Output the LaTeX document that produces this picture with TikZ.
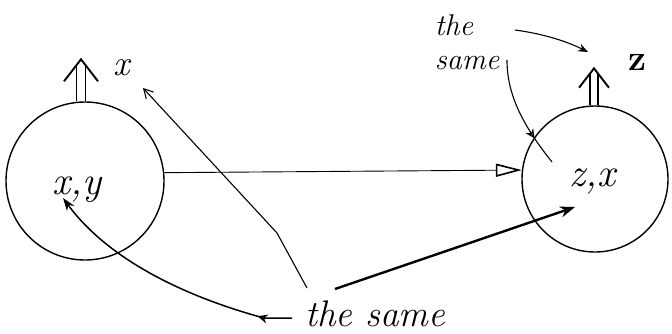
\documentclass[tikz,border=0pt]{standalone}
\usepackage{fontspec}
\usetikzlibrary{arrows.meta,decorations.markings,calc}
\begin{document}
\begin{tikzpicture}[x=1pt,y=-1pt,
  ring/.style={circle,draw,line width=1.4pt,inner sep=0pt},
  lbl/.style={font=\fontsize{40}{44}\selectfont\itshape,inner sep=0pt},
  outl/.style={font=\fontsize{36}{40}\selectfont\itshape,inner sep=0pt},
  note/.style={font=\fontsize{30}{34}\selectfont\itshape,inner sep=0pt,align=left},
  bignote/.style={font=\fontsize{37}{37}\selectfont\itshape,inner sep=0pt},
  thinln/.style={line width=1.1pt},
  thickln/.style={line width=2.4pt},
  dblup/.pic={
    \draw[line width=1.7pt] (-4.5,0) -- (-4.5,-36) (4.5,0) -- (4.5,-36);
    \draw[line width=1.9pt,line join=miter] (-17,-20) -- (0,-42) -- (17,-20);
  }]
\useasboundingbox (0,0) rectangle (672,333);
% circles
\node[ring,minimum size=158pt] (L) at (85,181) {};
\node[ring,minimum size=146pt] (R) at (595,179) {};
% inner texts
\node[lbl] (xy) at (77,190) {x,y};
\node[lbl] (zx) at (592,182) {z,x};
% output arrows
\pic at ($(L.north)+(-4,0)$) {dblup};
\pic[scale=0.88] at ($(R.north)+(-1,0)$) {dblup};
\node[outl] (xl) at (122,68) {x};
\node[outl,font=\fontsize{36}{40}\selectfont\bfseries] (zl) at (637,63) {z};
% notes
\node[note] (t1) at (467,42) {the\\same};
\node[bignote] (t2) at (375,314) {the same};
% connection with open triangle
\draw[line width=0.9pt,-{Triangle[open,length=26pt,width=13pt,line width=1.6pt]}] (L.6) -- (R.173);
% coordinates for free ends
\coordinate (a1s) at (515,30);
\coordinate (a1e) at (588,52);
\coordinate (a2s) at (507,60);
\coordinate (a2e) at (552,162);
\coordinate (b1s) at (307,288);
\coordinate (b1k) at (277,233);
\coordinate (b1e) at (143,88);
\coordinate (b2s) at (335,289);
\coordinate (b2e) at (575,207);
\coordinate (b3s) at (292,318);
\coordinate (b3m) at (264,318);
\coordinate (b3e) at (63,198);
% top "the same" arrows
\draw[thinln,-{Stealth[length=10pt,width=8pt]}] (a1s) .. controls (545,34) and (568,42) .. (a1e);
\draw[thinln,postaction={decorate},decoration={markings,
  mark=at position 0.74 with {\arrow{Stealth[length=9pt,width=9pt,open]}}}]
  (a2s) .. controls (507,92) and (520,122) .. (a2e);
% bottom "the same" arrows
\draw[thinln,-{Straight Barb[length=9pt,width=10pt]}] (b1s) -- (b1k) -- (b1e);
\draw[thickln,-{Stealth[length=15pt,width=11pt]}] (b2s) -- (b2e);
\draw[line width=1.5pt,-{Stealth[length=13pt,width=9pt]},postaction={decorate},
  decoration={markings,mark=at position 0.13 with {\arrow{Stealth[length=10pt,width=9pt]}}}]
  (b3s) -- (b3m) .. controls (190,298) and (110,262) .. (b3e);
\end{tikzpicture}
\end{document}
